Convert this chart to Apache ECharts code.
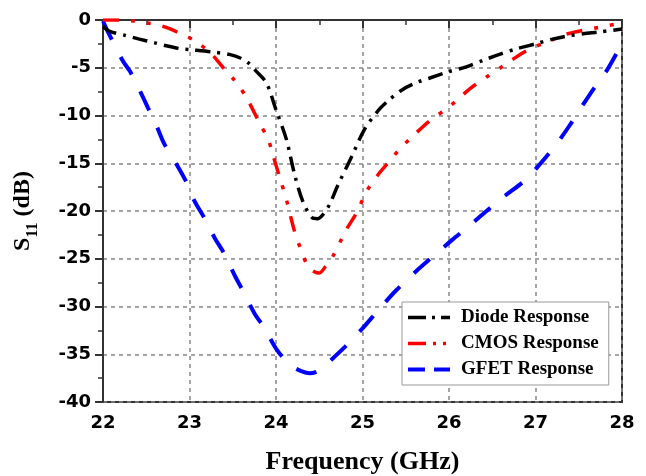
<!DOCTYPE html>
<html><head><meta charset="utf-8">
<script src="https://cdn.jsdelivr.net/npm/echarts@6/dist/echarts.min.js"></script>
<style>html,body{margin:0;padding:0;background:#fff}#c{width:646px;height:476px}</style>
</head><body><div id="c"></div>
<script>
const seriesNames = ['Diode Response', 'CMOS Response', 'GFET Response'];
const xTicks = [22, 23, 24, 25, 26, 27, 28];
const yTicks = [0, -5, -10, -15, -20, -25, -30, -35, -40];

const diodeX = [22.0,22.08,22.25,22.42,22.6,22.73,22.89,23.0,23.27,23.46,23.58,23.68,23.77,23.89,24.0,24.12,24.21,24.31,24.42,24.48,24.54,24.62,24.71,24.87,25.02,25.18,25.29,25.46,25.64,25.77,26.0,26.2,26.4,26.6,26.77,27.0,27.2,27.35,27.55,27.74,28.0];
const diodeY = [-0.7,-1.2,-1.6,-2.0,-2.4,-2.7,-3.0,-3.1,-3.35,-3.6,-3.95,-4.5,-5.35,-6.6,-9.4,-12.5,-16.0,-19.0,-20.7,-20.8,-20.4,-19.3,-17.4,-14.4,-11.5,-9.5,-8.5,-7.3,-6.5,-6.1,-5.4,-4.9,-4.2,-3.55,-3.05,-2.5,-2.0,-1.7,-1.45,-1.25,-0.95];

const cmosX = [22.0,22.19,22.35,22.5,22.65,22.77,22.89,22.96,23.05,23.12,23.25,23.39,23.5,23.56,23.67,23.81,23.91,23.96,24.04,24.12,24.21,24.29,24.37,24.45,24.5,24.58,24.66,24.81,24.93,25.05,25.18,25.31,25.43,25.6,25.77,25.97,26.08,26.24,26.43,26.62,26.89,27.16,27.35,27.54,27.74,28.0];
const cmosY = [0,0,-0.1,-0.3,-0.55,-0.9,-1.4,-1.7,-2.1,-2.55,-3.5,-5.0,-6.1,-6.75,-8.3,-10.8,-12.5,-14.0,-16.4,-18.8,-22.0,-24.1,-25.8,-26.4,-26.5,-25.7,-24.7,-22.0,-20.2,-17.9,-16.2,-14.8,-13.5,-12.0,-10.6,-9.3,-8.5,-7.2,-6.0,-4.85,-3.25,-2.2,-1.5,-1.1,-0.75,-0.3];

const gfetX = [22.0,22.06,22.23,22.31,22.42,22.52,22.62,22.71,22.85,22.96,23.06,23.17,23.29,23.41,23.52,23.62,23.75,23.87,24.0,24.16,24.3,24.39,24.5,24.6,24.8,25.0,25.2,25.39,25.62,25.81,26.04,26.23,26.42,26.62,26.89,27.06,27.25,27.39,27.54,27.68,27.83,27.95,28.0];
const gfetY = [-0.1,-1.3,-4.3,-5.35,-7.3,-9.2,-11.1,-13.0,-15.1,-16.9,-19.0,-20.7,-22.8,-24.6,-26.7,-28.4,-30.7,-32.3,-34.4,-36.1,-36.8,-37.0,-36.7,-35.9,-34.2,-32.3,-30.2,-28.3,-26.3,-24.8,-23.0,-21.6,-20.1,-18.6,-16.7,-15.0,-12.9,-11.1,-9.0,-7.1,-5.2,-3.3,-2.6];

const zip = (xs, ys) => xs.map((x, i) => [x, ys[i]]);
const chart = echarts.init(document.getElementById('c'));
const tickFont = {color: '#000', fontFamily: 'DejaVu Sans', fontWeight: 'bold', fontSize: 18};
const serif = 'Liberation Serif';
const axisLine = {show: true, lineStyle: {color: '#333', width: 2}};
const split = {show: true, lineStyle: {color: '#888', type: [4, 4], width: 1.5}};

chart.setOption({
  animation: false,
  backgroundColor: '#fff',
  grid: {left: 103, right: 24, top: 20, bottom: 74, show: true, borderColor: '#333', borderWidth: 2,
         containLabel: false, outerBoundsMode: 'none'},
  legend: {
    orient: 'vertical', left: 402, top: 302,
    backgroundColor: '#fff', borderColor: '#999', borderWidth: 1,
    padding: [6, 10, 6, 4], itemGap: 7, itemWidth: 42, itemHeight: 20,
    itemStyle: {opacity: 0, color: 'transparent', borderWidth: 0},
    textStyle: {fontFamily: serif, fontWeight: 'bold', fontSize: 19, color: '#000', padding: [0, 0, 0, 6]},
    data: [
      {name: seriesNames[0], lineStyle: {type: [18, 6, 3, 6], width: 3.5}},
      {name: seriesNames[1], lineStyle: {type: [18, 7, 3, 7, 3, 7], width: 3.5}},
      {name: seriesNames[2], lineStyle: {type: [17, 9], width: 4}}
    ]
  },
  xAxis: {
    type: 'value', min: 22, max: 28, interval: 1,
    name: 'Frequency (GHz)', nameLocation: 'middle', nameGap: 47,
    nameTextStyle: {fontFamily: serif, fontWeight: 'bold', fontSize: 26, color: '#000'},
    axisLine: axisLine,
    axisTick: {show: true, inside: false, length: 8, lineStyle: {color: '#333', width: 2}},
    minorTick: {show: true, splitNumber: 2, length: 5, lineStyle: {color: '#333', width: 1.5}},
    axisLabel: Object.assign({margin: 12, formatter: v => xTicks.includes(v) ? String(v) : ''}, tickFont),
    splitLine: split
  },
  yAxis: {
    type: 'value', min: -40, max: 0, interval: 5,
    name: '{s|S}{sub|11}{s| (dB)}', nameLocation: 'middle', nameGap: 68, nameRotate: 90,
    nameTextStyle: {
      color: '#000',
      rich: {
        s: {fontFamily: serif, fontWeight: 'bold', fontSize: 24, color: '#000', lineHeight: 30, verticalAlign: 'bottom'},
        sub: {fontFamily: serif, fontWeight: 'bold', fontSize: 16, color: '#000', lineHeight: 30, verticalAlign: 'bottom', padding: [0, 0, -6, 0]}
      }
    },
    axisLine: axisLine,
    axisTick: {show: true, inside: false, length: 8, lineStyle: {color: '#333', width: 2}},
    minorTick: {show: true, splitNumber: 2, length: 5, lineStyle: {color: '#333', width: 1.5}},
    axisLabel: Object.assign({margin: 12, formatter: v => yTicks.includes(v) ? String(v) : ''}, tickFont),
    splitLine: split
  },
  series: [
    {name: seriesNames[0], type: 'line', data: zip(diodeX, diodeY), smooth: 0.3, showSymbol: false, symbol: 'none',
     lineStyle: {color: '#000', width: 3.5, type: [15, 7, 3, 7]}, itemStyle: {color: '#000'}, z: 3},
    {name: seriesNames[1], type: 'line', data: zip(cmosX, cmosY), smooth: 0.3, showSymbol: false, symbol: 'none',
     lineStyle: {color: '#ff0000', width: 3.5, type: [16, 12, 4, 12, 4, 12]}, itemStyle: {color: '#ff0000'}, z: 2},
    {name: seriesNames[2], type: 'line', data: zip(gfetX, gfetY), smooth: 0.3, showSymbol: false, symbol: 'none',
     lineStyle: {color: '#0000ff', width: 4, type: [21, 19]}, itemStyle: {color: '#0000ff'}, z: 1}
  ]
});
</script></body></html>
